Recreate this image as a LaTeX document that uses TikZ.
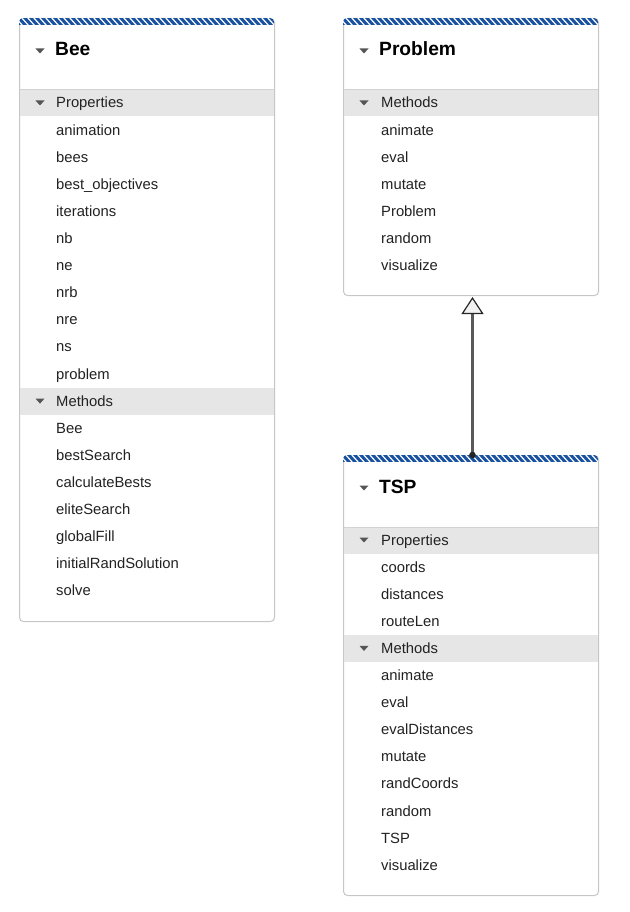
\documentclass[tikz,border=0pt]{standalone}
\usepackage{fontspec}
\setmainfont{Liberation Sans}
\usetikzlibrary{arrows.meta}
\definecolor{hdrblue}{HTML}{1A52A0}
\definecolor{band}{HTML}{E6E6E6}
\definecolor{boxline}{HTML}{C6C6C6}
\definecolor{sepline}{HTML}{D2D2D2}
\definecolor{txt}{HTML}{222222}
\definecolor{icon}{HTML}{555555}
\tikzset{
  classbox/.style={draw=boxline, line width=1pt, rounded corners=4pt, fill=white, minimum width=255pt, inner sep=0pt, anchor=north west},
  item/.style={anchor=base west, inner sep=0pt, font=\fontsize{14.8}{16}\selectfont, text=txt},
  ttl/.style={anchor=base west, inner sep=0pt, font=\fontsize{19.2}{21}\selectfont\bfseries, text=black},
  bandfill/.style={fill=band},
  sep/.style={draw=sepline, line width=1pt},
  arrowline/.style={draw=black!65, line width=2.4pt},
}
% downward icon (y axis points down)
\newcommand\downicon[2]{\fill[icon] ({#1-4.5},{#2-2.5}) -- ({#1+4.5},{#2-2.5}) -- (#1,{#2+2.5}) -- cycle;}
% striped header
\newcommand\stripes[2]{%
  \begin{scope}
    \clip[rounded corners=4pt] (#1,#2) rectangle ({#1+255},{#2+20});
    \clip (#1,#2) rectangle ({#1+255},{#2+6.5});
    \fill[hdrblue] (#1,#2) rectangle ({#1+255},{#2+7});
    \foreach \k in {0,6,...,270} \draw[white, line width=1.2pt] ({#1+\k-4},{#2-1}) -- ({#1+\k+4},{#2+8});
  \end{scope}}
\begin{document}
\begin{tikzpicture}[x=1pt,y=-1pt]
\useasboundingbox (0,0) rectangle (629,912);

% ---------------- Bee ----------------
\node[classbox, minimum height=603pt] (bee) at (19,18) {};
\stripes{19}{18}
\fill[bandfill] (19.5,89.5) rectangle (273.5,116.5);
\fill[bandfill] (19.5,387.6) rectangle (273.5,414.6);
\draw[sep] (19.5,90) -- (273.5,90);
\downicon{40}{51}
\node[ttl] (bee-title) at (55,56) {Bee};
\downicon{40}{103}
\node[item] (bee-props) at (56,108) {Properties};
\foreach \t [count=\k] in {animation,bees,best\_objectives,iterations,nb,ne,nrb,nre,ns,problem}
  \node[item] (bee-p\k) at (56,{108+27.1*\k}) {\t};
\downicon{40}{401.1}
\node[item] (bee-meth) at (56,406.1) {Methods};
\foreach \t [count=\k] in {Bee,bestSearch,calculateBests,eliteSearch,globalFill,initialRandSolution,solve}
  \node[item] (bee-m\k) at (56,{406.1+27.1*\k}) {\t};

% ---------------- Problem ----------------
\node[classbox, minimum height=277pt] (problem) at (343,18) {};
\stripes{343}{18}
\fill[bandfill] (343.5,89.5) rectangle (597.5,116.5);
\draw[sep] (343.5,90) -- (597.5,90);
\downicon{364}{51}
\node[ttl] (problem-title) at (379,56) {Problem};
\downicon{364}{103}
\node[item] (problem-meth) at (381,108) {Methods};
\foreach \t [count=\k] in {animate,eval,mutate,Problem,random,visualize}
  \node[item] (problem-m\k) at (381,{108+27.1*\k}) {\t};

% ---------------- TSP ----------------
\node[classbox, minimum height=440pt] (tsp) at (343,455) {};
\stripes{343}{455}
\fill[bandfill] (343.5,526.5) rectangle (597.5,553.5);
\fill[bandfill] (343.5,634.9) rectangle (597.5,661.9);
\draw[sep] (343.5,527) -- (597.5,527);
\downicon{364}{488}
\node[ttl] (tsp-title) at (379,493) {TSP};
\downicon{364}{540}
\node[item] (tsp-props) at (381,545) {Properties};
\foreach \t [count=\k] in {coords,distances,routeLen}
  \node[item] (tsp-p\k) at (381,{545+27.1*\k}) {\t};
\downicon{364}{648.4}
\node[item] (tsp-meth) at (381,653.4) {Methods};
\foreach \t [count=\k] in {animate,eval,evalDistances,mutate,randCoords,random,TSP,visualize}
  \node[item] (tsp-m\k) at (381,{653.4+27.1*\k}) {\t};

% ---------------- Generalization ----------------
\draw[arrowline, shorten >=1pt,
  -{Triangle[length=17pt, width=22pt, line width=1.2pt, color=black!85, fill=black!5]}]
  ([xshift=1.5pt]tsp.north) -- ([xshift=1.5pt]problem.south);
\fill[black!85] ([xshift=1.5pt]tsp.north) circle (3.3pt);
\end{tikzpicture}
\end{document}
